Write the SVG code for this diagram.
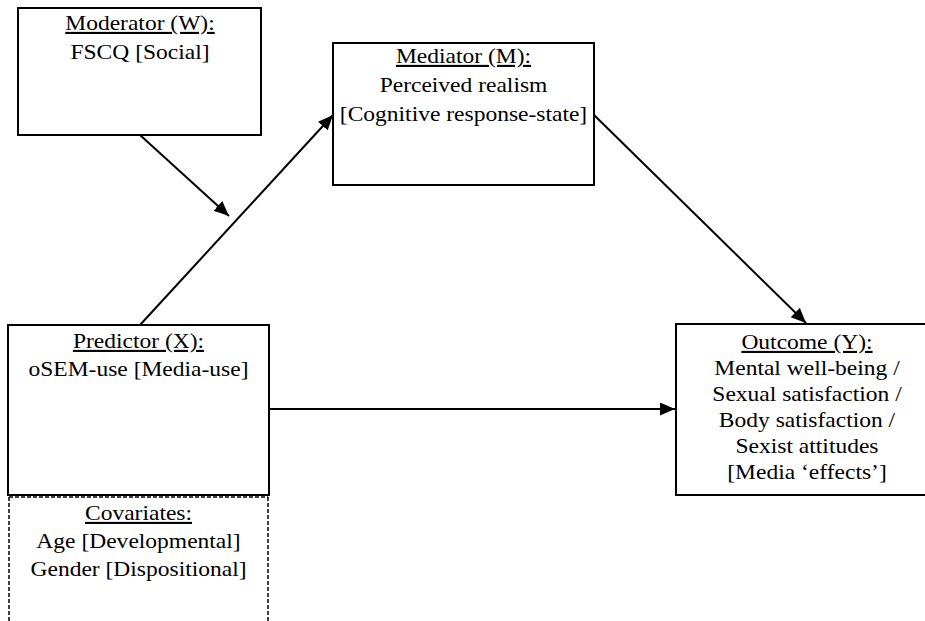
<svg xmlns="http://www.w3.org/2000/svg" width="925" height="621" viewBox="0 0 925 621">
<style>
.box{fill:#fff;stroke:#000;stroke-width:2}
.dash{fill:none;stroke:#000;stroke-width:1.5;stroke-dasharray:4 2}
.con{fill:none;stroke:#000;stroke-width:2}
text{font-family:"Liberation Serif","Times New Roman",serif;font-size:21px;fill:#000;text-anchor:middle}
.u{text-decoration:underline}
</style>
<defs>
<marker id="ah" markerUnits="userSpaceOnUse" markerWidth="16" markerHeight="14" refX="15" refY="6.5" orient="auto">
<path d="M0,0 L15,6.5 L0,13 z" fill="#000"/>
</marker>
</defs>
<rect width="925" height="621" fill="#fff"/>
<g id="connectors">
<line class="con" x1="140" y1="135" x2="229" y2="216" marker-end="url(#ah)"/>
<line class="con" x1="140" y1="325" x2="333" y2="115" marker-end="url(#ah)"/>
<line class="con" x1="594" y1="115" x2="806" y2="323" marker-end="url(#ah)"/>
<line class="con" x1="269" y1="409" x2="675" y2="409" marker-end="url(#ah)"/>
</g>
<g id="moderator">
<rect class="box" x="18" y="8" width="243" height="127"/>
<g transform="translate(140,0) scale(1.12,1)">
<text class="u" x="0" y="30">Moderator (W):</text>
<text x="0" y="59">FSCQ [Social]</text>
</g>
</g>
<g id="mediator">
<rect class="box" x="333" y="43" width="261" height="142"/>
<g transform="translate(463.5,0) scale(1.12,1)">
<text class="u" x="0" y="63">Mediator (M):</text>
<text x="0" y="92">Perceived realism</text>
<text x="0" y="121">[Cognitive response-state]</text>
</g>
</g>
<g id="predictor">
<rect class="box" x="8" y="325" width="261" height="170"/>
<g transform="translate(138.5,0) scale(1.12,1)">
<text class="u" x="0" y="348">Predictor (X):</text>
<text x="0" y="376">oSEM-use [Media-use]</text>
</g>
</g>
<g id="covariates">
<path class="dash" d="M9,497 V621 M268,497 V621 M9,497 H268"/>
<g transform="translate(138.5,0) scale(1.12,1)">
<text class="u" x="0" y="520">Covariates:</text>
<text x="0" y="548">Age [Developmental]</text>
<text x="0" y="576">Gender [Dispositional]</text>
</g>
</g>
<g id="outcome">
<rect class="box" x="676" y="324" width="262" height="171"/>
<g transform="translate(807,0) scale(1.12,1)">
<text class="u" x="0" y="349">Outcome (Y):</text>
<text x="0" y="375">Mental well-being /</text>
<text x="0" y="401">Sexual satisfaction /</text>
<text x="0" y="427">Body satisfaction /</text>
<text x="0" y="453">Sexist attitudes</text>
<text x="0" y="479">[Media ‘effects’]</text>
</g>
</g>
</svg>
